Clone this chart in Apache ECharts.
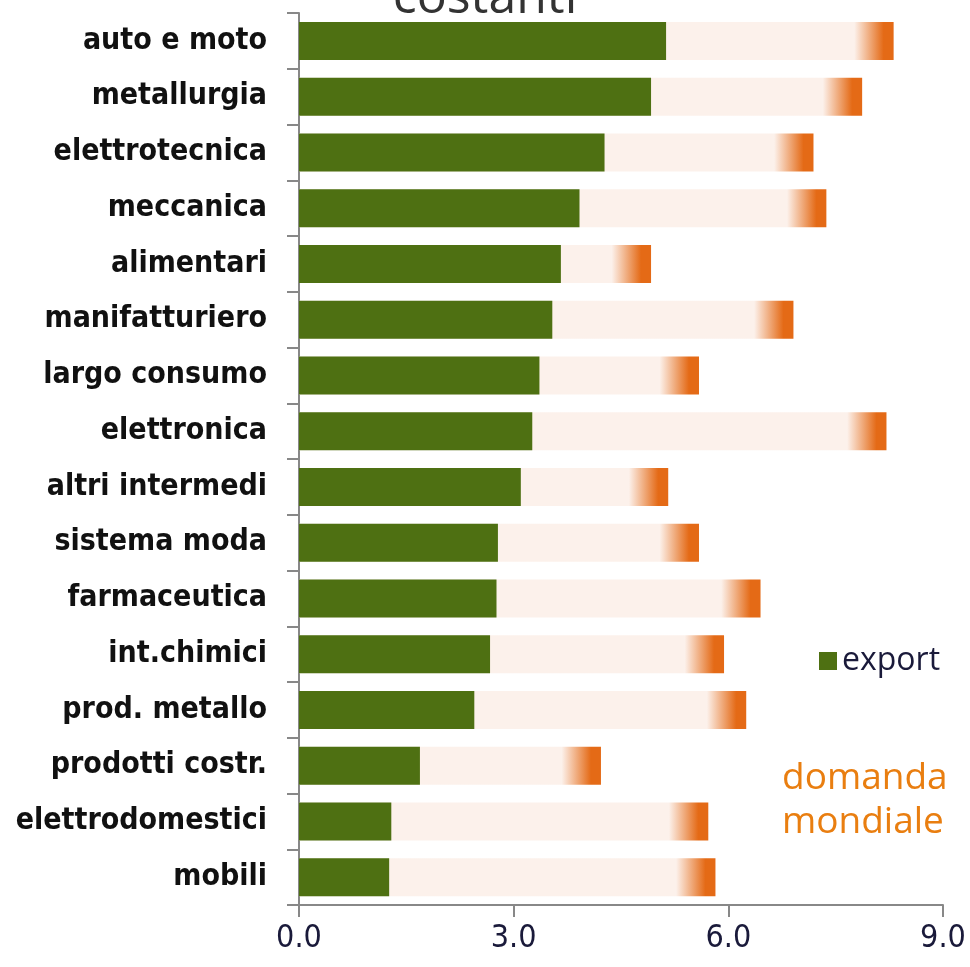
<!DOCTYPE html>
<html>
<head>
<meta charset="utf-8">
<script src="https://cdn.jsdelivr.net/npm/echarts@6/dist/echarts.min.js"></script>
<style>
  html, body { margin: 0; padding: 0; background: #fff; }
  #chart { width: 970px; height: 967px; }
</style>
</head>
<body>
<div id="chart"></div>
<script>
const categories = [
  'auto e moto', 'metallurgia', 'elettrotecnica', 'meccanica', 'alimentari',
  'manifatturiero', 'largo consumo', 'elettronica', 'altri intermedi', 'sistema moda',
  'farmaceutica', 'int.chimici', 'prod. metallo', 'prodotti costr.', 'elettrodomestici', 'mobili'
]
const exportValues = [5.13, 4.92, 4.27, 3.92, 3.66, 3.54, 3.36, 3.26, 3.10, 2.78, 2.76, 2.67, 2.45, 1.69, 1.29, 1.26]
const domandaValues = [8.31, 7.87, 7.19, 7.37, 4.92, 6.91, 5.59, 8.21, 5.16, 5.59, 6.45, 5.94, 6.25, 4.22, 5.72, 5.82]
const xTicks = [0, 3, 6, 9]

const chart = echarts.init(document.getElementById('chart'))

// orange fade only on the last part of each bar
function fadeColor(v) {
  const fade = 0.55 / v
  const solid = 0.14 / v
  return {
    type: 'linear', x: 0, y: 0, x2: 1, y2: 0,
    colorStops: [
      { offset: 0, color: '#fcf1eb' },
      { offset: 1 - fade, color: '#fcf1eb' },
      { offset: 1 - solid, color: '#e46a16' },
      { offset: 1, color: '#e46a16' }
    ]
  }
}

chart.setOption({
  animation: false,
  graphic: [
    {
      type: 'text',
      x: 485,
      y: 24,
      style: {
        text: 'costanti',
        fontSize: 50,
        fill: '#333',
        fontFamily: 'Open Sans',
        align: 'center',
        verticalAlign: 'bottom',
        textAlign: 'center',
        textVerticalAlign: 'bottom'
      }
    },
    {
      type: 'text',
      x: 782,
      y: 756,
      style: {
        text: 'domanda\nmondiale',
        fontSize: 37,
        lineHeight: 44,
        fill: '#e97e10',
        fontFamily: 'Open Sans'
      }
    }
  ],
  legend: {
    data: [{ name: 'export', icon: 'rect' }],
    left: 814,
    top: 640,
    itemWidth: 18,
    itemHeight: 18,
    itemGap: 6,
    textStyle: { fontSize: 32, color: '#1a1a3a', fontFamily: 'Open Sans' }
  },
  grid: { left: 299, right: 27, top: 13, bottom: 62 },
  xAxis: {
    type: 'value',
    min: 0,
    max: 9,
    interval: 3,
    axisLine: { show: true, lineStyle: { color: '#888', width: 2 } },
    axisTick: { show: true, length: 12, lineStyle: { color: '#888', width: 2 } },
    splitLine: { show: false },
    axisLabel: {
      fontSize: 32,
      color: '#1a1a3a',
      fontFamily: 'DejaVu Sans Condensed',
      margin: 18,
      formatter: v => xTicks.includes(v) ? v.toFixed(1) : ''
    }
  },
  yAxis: {
    type: 'category',
    inverse: true,
    data: categories,
    axisLine: { lineStyle: { color: '#888', width: 2 } },
    axisTick: { show: true, length: 12, lineStyle: { color: '#888', width: 2 } },
    axisLabel: {
      fontSize: 30,
      fontWeight: 'bold',
      color: '#111',
      fontFamily: 'DejaVu Sans Condensed',
      margin: 32
    }
  },
  series: [
    {
      name: 'domanda mondiale',
      type: 'bar',
      barWidth: 38,
      barGap: '-100%',
      data: domandaValues.map(v => ({ value: v, itemStyle: { color: fadeColor(v) } }))
    },
    {
      name: 'export',
      type: 'bar',
      barWidth: 38,
      barGap: '-100%',
      itemStyle: { color: '#4e7012' },
      data: exportValues
    }
  ]
})
</script>
</body>
</html>
